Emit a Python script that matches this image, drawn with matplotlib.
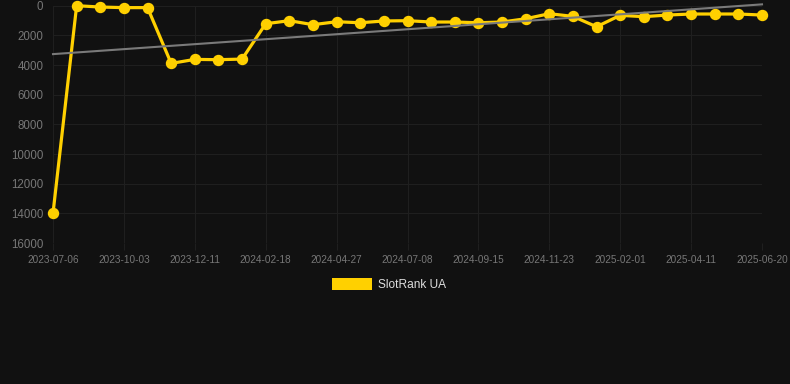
import numpy as np
import matplotlib
matplotlib.use("Agg")
import matplotlib.pyplot as plt
from matplotlib.patches import Rectangle

plt.rcParams['font.family'] = ['Liberation Sans', 'DejaVu Sans']

# Data
tick_labels = ["2023-07-06", "2023-10-03", "2023-12-11", "2024-02-18", "2024-04-27",
               "2024-07-08", "2024-09-15", "2024-11-23", "2025-02-01", "2025-04-11",
               "2025-06-20"]
rank_values = [14000, 0, 90, 130, 130, 3890, 3620, 3640, 3600, 1215,
               1010, 1280, 1080, 1150, 1030, 1010, 1100, 1100, 1150, 1100,
               880, 540, 720, 1420, 650, 740, 630, 560, 560, 560, 630]
series_name = "SlotRank UA"
y_ticks = [0, 2000, 4000, 6000, 8000, 10000, 12000, 14000, 16000]

BG = "#111111"
YELLOW = "#FFD000"
GRID = "#1f1f1f"
TICK = "#777777"

fig = plt.figure(figsize=(7.9, 3.84), dpi=100, facecolor=BG)
ax = fig.add_axes([53/790, 1 - 243/384, (762 - 53)/790, (243 - 5.7)/384])
ax.set_facecolor(BG)

x = np.arange(len(rank_values))
y = np.array(rank_values, dtype=float)

# trend line (linear regression)
coef = np.polyfit(x, y, 1)
trend = np.polyval(coef, x)

ax.plot(x, y, color=YELLOW, lw=2.3, marker='o', markersize=7.2,
        markerfacecolor=YELLOW, markeredgecolor=YELLOW, clip_on=False, zorder=3,
        label=series_name)
ax.plot([x[0], x[-1]], [trend[0], trend[-1]], color="#7a7a7a", lw=1.5,
        clip_on=False, zorder=4)

ax.set_xlim(0, len(rank_values) - 1)
ax.set_ylim(16000, 0)
ax.set_yticks(y_ticks)
ax.set_yticklabels([str(v) for v in y_ticks])
tick_pos = list(range(0, len(rank_values), 3))
ax.set_xticks(tick_pos)
ax.set_xticklabels(tick_labels)

ax.grid(True, color=GRID, lw=0.8, zorder=0)
for s in ax.spines.values():
    s.set_visible(False)
ax.tick_params(axis='y', colors=GRID, labelcolor=TICK, labelsize=8.3, length=0, pad=7)
ax.tick_params(axis='x', colors=GRID, labelcolor=TICK, labelsize=7.2, length=5, pad=3.5)

# legend
fig.patches.append(Rectangle((332/790, 1 - 290/384), 40/790, 12/384,
                             transform=fig.transFigure, facecolor=YELLOW,
                             edgecolor=YELLOW, lw=0))
fig.text(378.5/790, 1 - 285/384, series_name, color="#dddddd", fontsize=8.6,
         va='center', ha='left')

fig.savefig("out.png", dpi=100, facecolor=BG)
